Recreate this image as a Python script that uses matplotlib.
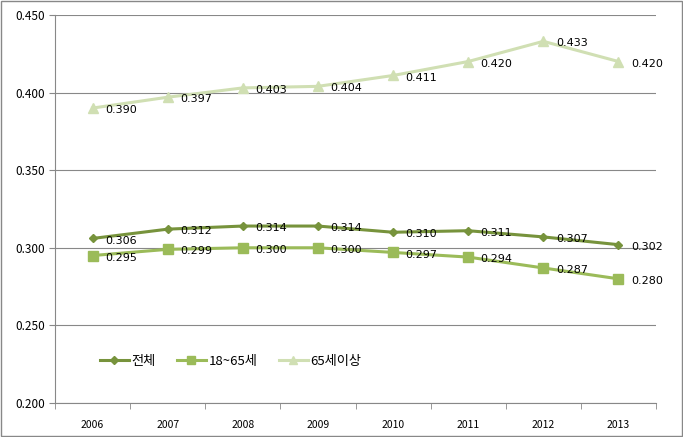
import matplotlib.pyplot as plt
import numpy as np

plt.rcParams['font.family'] = ['Noto Sans CJK KR', 'DejaVu Sans']

years = ['2006', '2007', '2008', '2009', '2010', '2011', '2012', '2013']
total = [0.306, 0.312, 0.314, 0.314, 0.310, 0.311, 0.307, 0.302]
working = [0.295, 0.299, 0.300, 0.300, 0.297, 0.294, 0.287, 0.280]
elderly = [0.390, 0.397, 0.403, 0.404, 0.411, 0.420, 0.433, 0.420]
names = ['전체', '18~65세', '65세이상']

fig = plt.figure(figsize=(6.83, 4.37), dpi=100)
ax = fig.add_axes([0.0805, 0.0778, 0.88, 0.888])

x = np.arange(len(years))
series = [
    (total, '#77933C', 'D', 4.5),
    (working, '#9BBB59', 's', 7),
    (elderly, '#D0DFB3', '^', 7),
]
for (vals, color, marker, ms), name in zip(series, names):
    ax.plot(x, vals, color=color, lw=2.2, marker=marker, ms=ms, label=name, zorder=3)
    for xi, v in zip(x, vals):
        ax.annotate('%.3f' % v, (xi, v), xytext=(9, -1.5), textcoords='offset points',
                    fontsize=8, va='center', ha='left', family='DejaVu Sans', zorder=4)

ax.set_xlim(-0.5, len(years) - 0.5)
ax.set_ylim(0.2, 0.45)
ax.set_yticks(np.arange(0.2, 0.451, 0.05))
ax.set_yticklabels(['%.3f' % t for t in np.arange(0.2, 0.451, 0.05)], fontsize=8.5)
ax.set_xticks(x)
ax.set_xticklabels(years, fontsize=7.5)
ax.set_xticks(np.arange(-0.5, len(years)), minor=True)
ax.tick_params(axis='x', which='major', length=0, pad=12)
ax.tick_params(axis='x', which='minor', length=4, color='#888888')
ax.tick_params(axis='y', length=4, color='#888888', pad=3)
ax.grid(axis='y', color='#888888', lw=0.8)
ax.set_axisbelow(True)
for s in ['top', 'right']:
    ax.spines[s].set_visible(False)
for s in ['left', 'bottom']:
    ax.spines[s].set_color('#888888')

leg = ax.legend(loc='lower left', bbox_to_anchor=(0.055, 0.06), ncol=3, frameon=False,
                fontsize=9.5, handlelength=2.2, handletextpad=0.2, columnspacing=1.6,
                markerscale=0.8)

fig.patches.append(plt.Rectangle((0.002, 0.002), 0.996, 0.996, transform=fig.transFigure,
                                 fill=False, edgecolor='#888888', lw=1))
fig.savefig('out.png', dpi=100)
